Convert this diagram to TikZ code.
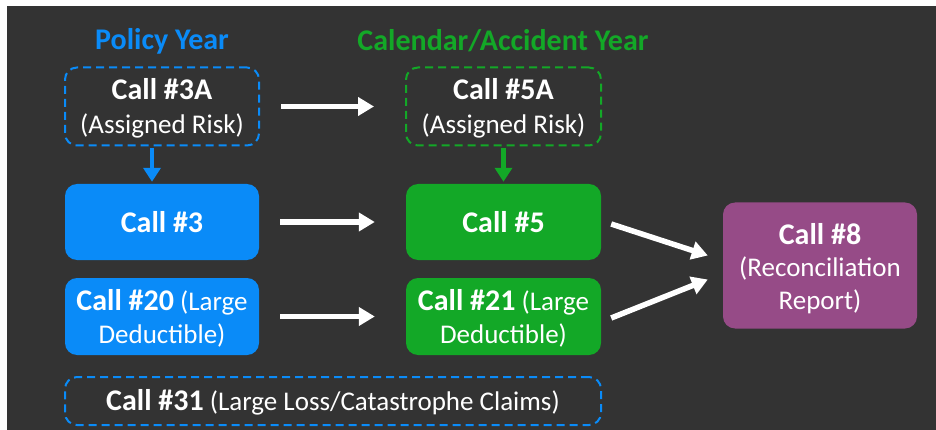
\documentclass[tikz,border=0pt]{standalone}
\usepackage{fontspec}
\setmainfont{Carlito}
\usetikzlibrary{arrows.meta}
\definecolor{bgc}{HTML}{333333}
\definecolor{pblue}{HTML}{0A8BF8}
\definecolor{cgreen}{HTML}{13A827}
\definecolor{rpurple}{HTML}{964B87}
\newcommand\callb[1]{{\fontsize{30}{35}\selectfont\bfseries #1}}
\tikzset{
  box/.style={rounded corners=12pt, minimum width=194pt, minimum height=77pt, inner sep=0pt},
  solidbox/.style={box, fill=#1, draw=none},
  dashbox/.style={box, draw=#1, line width=2pt, dash pattern=on 8pt off 5pt},
  txt/.style={align=center, text=white, inner sep=0pt, font=\fontsize{27}{#1}\selectfont},
  header/.style={font=\fontsize{30}{35}\selectfont\bfseries, text=#1},
  warrow/.style={draw=white, line width=5.5pt, -{Triangle[length=16pt,width=18pt]}},
  carrow/.style={draw=#1, line width=4.5pt, -{Triangle[length=14pt,width=17pt]}, shorten <=2pt, shorten >=2pt},
}
\begin{document}
\begin{tikzpicture}[x=1pt,y=-1pt]
\useasboundingbox (0,0) rectangle (936,430);
\fill[bgc] (7,6) rectangle (936,430);
\node[header=pblue] (hpy) at (162,41) {Policy Year};
\node[header=cgreen] (hcy) at (503,41) {Calendar/Accident Year};
% boxes
\node[dashbox=pblue, minimum height=78pt] (n3A) at (162,106.5) {};
\node[solidbox=pblue, minimum height=76pt] (n3) at (162,222) {};
\node[solidbox=pblue] (n20) at (162,316.5) {};
\node[dashbox=pblue, minimum width=536pt, minimum height=48pt] (n31) at (333,401) {};
\node[dashbox=cgreen, minimum width=195pt, minimum height=78pt] (n5A) at (503.5,106.5) {};
\node[solidbox=cgreen, minimum width=195pt, minimum height=76pt] (n5) at (503.5,222) {};
\node[solidbox=cgreen, minimum width=195pt] (n21) at (503.5,316.5) {};
\node[solidbox=rpurple, minimum height=126pt] (n8) at (820,265.5) {};
% texts
\node[txt=34, yshift=-2pt] (t3A) at (n3A) {\callb{Call \#3A}\\(Assigned Risk)};
\node[txt=34] (t3) at (n3) {\callb{Call \#3}};
\node[txt=33, yshift=-2pt] (t20) at (n20) {\callb{Call \#20} (Large\\Deductible)};
\node[txt=34, yshift=-1pt] (t31) at (n31) {\callb{Call \#31} (Large Loss/Catastrophe Claims)};
\node[txt=34, yshift=-2pt] (t5A) at (n5A) {\callb{Call \#5A}\\(Assigned Risk)};
\node[txt=34] (t5) at (n5) {\callb{Call \#5}};
\node[txt=33, yshift=-2pt] (t21) at (n21) {\callb{Call \#21} (Large\\Deductible)};
\node[txt=32.5, yshift=-3pt] (t8) at (n8) {\callb{Call \#8}\\(Reconciliation\\Report)};
% connectors
\draw[warrow, shorten <=21pt, shorten >=31pt] (n3A) -- (n5A);
\draw[warrow, shorten <=21pt, shorten >=31pt] (n3) -- (n5);
\draw[warrow, shorten <=21pt, shorten >=31pt] (n20) -- (n21);
\draw[carrow=pblue] ([xshift=-10pt]n3A.south) -- ([xshift=-10pt]n3.north);
\draw[carrow=cgreen] (n5A.south) -- (n5.north);
\draw[warrow] ([xshift=10pt,yshift=-2pt]n5.east) -- ([xshift=-15pt,yshift=10pt]n8.west);
\draw[warrow] ([xshift=10pt,yshift=-1.5pt]n21.east) -- ([xshift=-15pt,yshift=-14pt]n8.west);
\end{tikzpicture}
\end{document}
